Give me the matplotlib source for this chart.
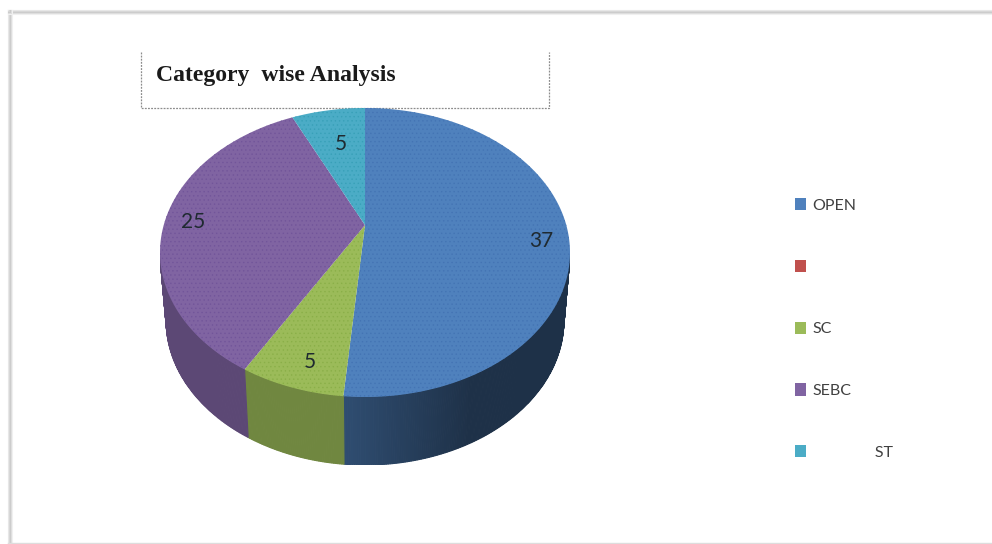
import numpy as np
import matplotlib.pyplot as plt
from matplotlib.colors import to_rgb
from matplotlib.patches import Rectangle

# Data
categories = ["OPEN", "", "SC", "SEBC", "ST"]
legend_labels = ["OPEN", "", "SC", "SEBC", "               ST"]
values = [37, 0, 5, 25, 5]
colors = ["#4f81bd", "#c0504d", "#9bbb59", "#8064a2", "#4bacc6"]
hatch_colors = ["#4474b4", "#b04440", "#8aaf48", "#72559a", "#38a0b8"]

W, H = 992, 544
plt.rcParams["hatch.linewidth"] = 0.5

fig = plt.figure(figsize=(W / 100, H / 100), dpi=100)

# Page background with the soft shadow on the top and left edges
bg = fig.add_axes([0, 0, 1, 1])
bg.set_xlim(0, W)
bg.set_ylim(H, 0)
bg.axis("off")
for i, c in enumerate(["#e8e8e8", "#d8d8d8", "#cccccc", "#dddddd", "#f0f0f0"]):
    bg.plot([8 + i, 8 + i], [10, H], color=c, lw=0.8)
    bg.plot([8, W], [10 + i, 10 + i], color=c, lw=0.8)
bg.plot([8, W], [H - 1, H - 1], color="#dddddd", lw=1)

# Title box, open at the top
bg.plot([141, 141, 549, 549], [52, 108, 108, 52], color="#8c8c8c", lw=0.9, ls=(0, (1.5, 1)))
bg.text(156, 75, "Category  wise Analysis", family="Liberation Serif", weight="bold",
        fontsize=17.1, color="#1a1a1a", ha="left", va="center")

# Pie axes: ellipse 410 x 290 px, wall 68 px deep
left, right, top, bottom = 160, 570, 108, 397
depth = 2 * 68 / (bottom - top)
ax = fig.add_axes([left / W, 1 - (bottom + 68) / H, (right - left) / W, (bottom + 68 - top) / H])
ax.patch.set_alpha(0)

hub = 0.19  # the tilted view moves the pie centre up from the middle of the ellipse


def rim(ang):
    # point on the tilted rim for an angle in radians
    x, y = np.cos(ang), np.sin(ang)
    den = 1 + hub * y
    return x * np.sqrt(1 - hub**2) / den, (y + hub) / den


start = 90.0
for v, c, hc in zip(values, colors, hatch_colors):
    sweep = v / sum(values) * 360
    ang = np.radians(np.linspace(start, start - sweep, max(int(sweep) * 2, 2)))
    start -= sweep
    if v == 0:
        continue
    u, w = rim(ang)
    rgb = np.array(to_rgb(c))

    # side wall first, the lower rim is a little narrower
    for i in range(len(ang) - 1):
        if w[i] > 0 and w[i + 1] > 0:
            continue
        xs = [u[i], u[i + 1], u[i + 1] * 0.97, u[i] * 0.97]
        ys = [min(w[i], 0), min(w[i + 1], 0), min(w[i + 1], 0) - depth, min(w[i], 0) - depth]
        mid = (u[i] + u[i + 1]) / 2
        shade = 0.72 if mid < -0.11 else max(0.6 - 0.35 * (mid + 0.11), 0.38)
        ax.fill(xs, ys, color=rgb * shade, lw=0.8, zorder=1)

    # top face
    ax.fill(np.r_[0, u], np.r_[hub, w], facecolor=c, edgecolor=hc, hatch="....", lw=0, zorder=2)

ax.set_xlim(-1, 1)
ax.set_ylim(-1 - depth, 1)
ax.axis("off")

# Value labels, in slice coordinates
label_pos = [(0.86, 0.08), None, (-0.27, -0.76), (-0.84, 0.21), (-0.117, 0.75)]
for v, p in zip(values, label_pos):
    if p is not None:
        ax.text(p[0], p[1], str(v), family="Lato", fontsize=15, color="#1f2a30",
                ha="center", va="center", zorder=5)

# Legend
handles = [Rectangle((0, 0), 1, 1, facecolor=c, edgecolor="none") for c in colors]
fig.legend(handles, legend_labels, loc="upper left", bbox_to_anchor=(795 / W, 1 - 198 / H),
           frameon=False, prop={"family": "Lato", "size": 11.5}, labelcolor="#404040",
           handlelength=0.7, handleheight=0.8, handletextpad=0.4,
           labelspacing=2.95, borderpad=0, borderaxespad=0)

fig.savefig("out.png", dpi=100)
